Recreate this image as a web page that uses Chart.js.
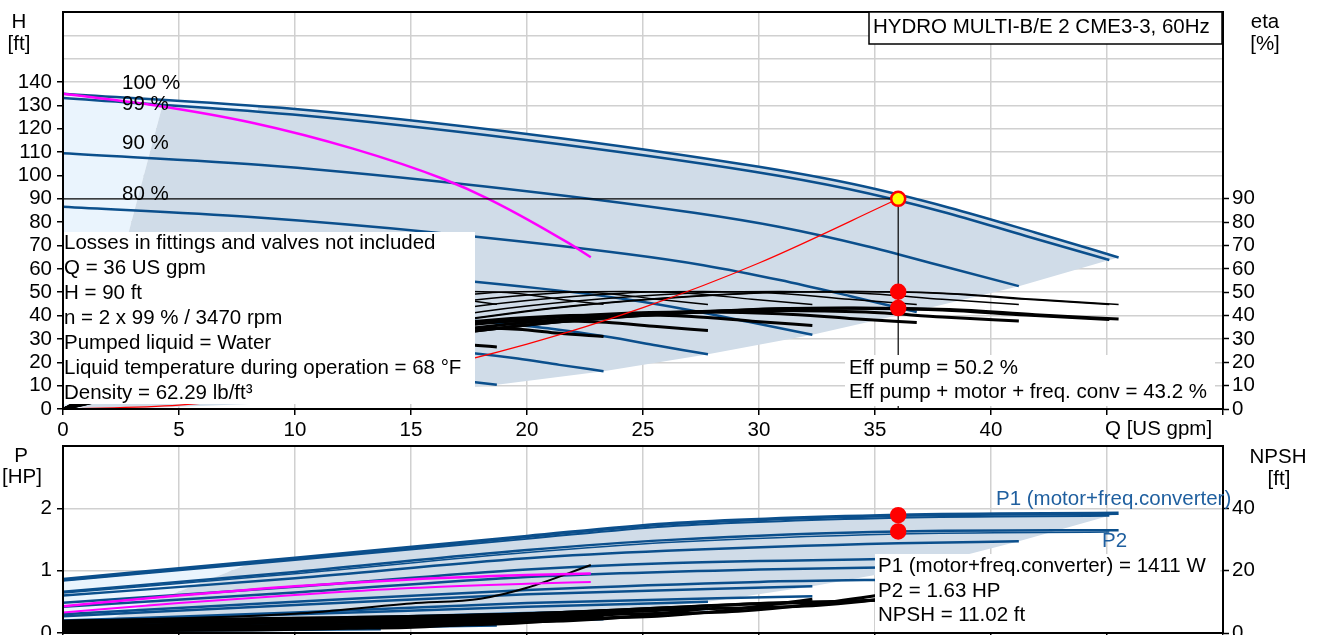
<!DOCTYPE html>
<html>
<head>
<meta charset="utf-8">
<script src="https://cdn.jsdelivr.net/npm/chart.js@4.4.0/dist/chart.umd.min.js"></script>
<style>
  html, body { margin: 0; padding: 0; background: #fff; overflow: hidden; }
  #wrap { position: relative; width: 1322px; height: 635px; overflow: hidden; }
  #headChart { position: absolute; left: 0; top: 0; }
  #powerChart { position: absolute; left: 0; top: 428px; }
</style>
</head>
<body>
<div id="wrap">
  <canvas id="headChart" width="1322" height="440"></canvas>
  <canvas id="powerChart" width="1322" height="240"></canvas>
</div>
<script>
  // ---- top panel: Q [US gpm] vs H [ft] and eta [%] ----
  const speedLabels = ['100 %', '99 %', '90 %', '80 %'];

  const qS100 = [0, 10, 20, 30, 34.1, 38.2, 41.9, 45.5];
  const qS99 = [0, 9.9, 19.8, 29.8, 33.8, 37.9, 41.5, 45.1];
  const qS90 = [0, 9.1, 18.1, 27.2, 30.9, 34.6, 37.9, 41.2];
  const qS80 = [0, 8.1, 16.2, 24.3, 27.6, 30.9, 33.9, 36.8];
  const qS70 = [0, 7.1, 14.2, 21.3, 24.2, 27.1, 29.7, 32.3];
  const qS60 = [0, 6.1, 12.2, 18.3, 20.9, 23.4, 25.6, 27.8];
  const qS50 = [0, 5.1, 10.3, 15.4, 17.5, 19.6, 21.4, 23.3];
  const qS40 = [0, 4.1, 8.2, 12.3, 14.0, 15.7, 17.2, 18.7];

  const h100 = [135, 128.5, 117.8, 103.7, 96.2, 86.2, 75.6, 64.9];
  const h99 = [133.2, 126.1, 115.4, 101.6, 94.3, 84.5, 74.1, 63.8];
  const h90 = [109.5, 104.1, 95.4, 84.0, 77.9, 69.8, 61.2, 52.6];
  const h80 = [86.6, 82.2, 75.4, 66.4, 61.6, 55.2, 48.4, 41.5];
  const h70 = [66.2, 63.0, 57.7, 50.8, 47.1, 42.2, 37.0, 31.8];
  const h60 = [48.6, 46.3, 42.4, 37.3, 34.6, 31.0, 27.2, 23.4];
  const h50 = [33.8, 32.1, 29.5, 25.9, 24.1, 21.6, 18.9, 16.2];
  const h40 = [21.6, 20.6, 18.8, 16.6, 15.4, 13.8, 12.1, 10.4];

  // pump efficiency (same for every speed) and pump+motor+converter efficiency
  const etaPump = [0, 25.3, 41.8, 49.7, 50.3, 49.5, 47.0, 44.8];
  const etaTot100 = [0, 21.8, 36.0, 42.7, 43.3, 42.6, 40.4, 38.5];
  const etaTot99 = [0, 21.6, 35.8, 42.5, 43.1, 42.4, 40.2, 38.3];
  const etaTot90 = [0, 21.2, 35.1, 41.7, 42.2, 41.5, 39.4, 37.7];
  const etaTot80 = [0, 20.8, 34.5, 41.0, 41.5, 40.8, 38.8, 37.0];
  const etaTot70 = [0, 20.2, 33.4, 39.8, 40.2, 39.6, 37.6, 35.8];
  const etaTot60 = [0, 19.0, 31.4, 37.3, 37.7, 37.1, 35.3, 33.6];
  const etaTot50 = [0, 17.5, 28.8, 34.3, 34.7, 34.2, 32.4, 31.0];
  const etaTot40 = [0, 14.9, 24.7, 29.3, 29.7, 29.2, 27.7, 26.6];

  // single pump curve (magenta) and system curve (red)
  const qMag = [0, 4, 8.2, 12.5, 16.4, 18.4, 21.8, 22.75];
  const hMag = [135, 130, 122.5, 111.5, 98.5, 89.7, 71, 65];
  const qSys = [0, 5, 10, 15, 20, 25, 30, 36];
  const hSys = [0, 1.7, 6.9, 15.6, 27.8, 43.4, 62.5, 90];

  // duty point
  const dutyQ = 36;
  const dutyH = 90;
  const effPump = 50.2;
  const effTotal = 43.2;

  // operating range (light = outside min flow, dark = allowed range)
  const lightQ = [0, 0, 4.3, 8.4, 8.4, 4.3, 0.8];
  const lightH = [0, 135, 132.6, 129.7, 127.3, 130.5, 0];
  const darkQ = [0.8, 4.3, 8.4, 8.4, 10, 20, 25, 30, 35, 40, 45, 45.5, 45.1, 41.2, 36.6, 32.3, 27.8, 23.3, 18.7, 13.7, 9.1, 4.5];
  const darkH = [0, 130.5, 127.3, 129.7, 128.5, 117.8, 110.9, 103.7, 94.5, 81.6, 65.9, 64.9, 63.8, 52.6, 41.5, 31.8, 23.4, 16.2, 10.4, 5.9, 2.6, 0.7];

  // ---- bottom panel: P [HP] and NPSH [ft] ----
  const pQ100 = [0, 10, 20, 26, 36, 45.5];
  const p1_100 = [0.86, 1.2, 1.55, 1.75, 1.89, 1.92];
  const p2_100 = [0.66, 0.98, 1.33, 1.49, 1.63, 1.65];
  const pQ99 = [0, 10, 20, 26, 36, 45.1];
  const p1_99 = [0.84, 1.17, 1.51, 1.71, 1.85, 1.88];
  const p2_99 = [0.64, 0.95, 1.29, 1.45, 1.59, 1.62];
  const pQ90 = [0, 10, 20, 26, 36, 41.2];
  const p1_90 = [0.6, 0.88, 1.2, 1.32, 1.44, 1.47];
  const p2_90 = [0.485, 0.74, 1.02, 1.12, 1.19, 1.21];
  const pQ80 = [0, 10, 20, 30, 36.8];
  const p1_80 = [0.42, 0.65, 0.9, 1.02, 1.06];
  const p2_80 = [0.3, 0.5, 0.69, 0.82, 0.86];
  const pQ70 = [0, 10, 20, 32.3];
  const p1_70 = [0.27, 0.45, 0.62, 0.75];
  const p2_70 = [0.2, 0.33, 0.48, 0.59];
  const pQ60 = [0, 10, 20, 27.8];
  const p1_60 = [0.19, 0.3, 0.42, 0.5];
  const p2_60 = [0.13, 0.22, 0.32, 0.384];
  const pQ50 = [0, 10, 23.3];
  const p1_50 = [0.13, 0.2, 0.325];
  const p2_50 = [0.08, 0.13, 0.22];
  const pQ40 = [0, 10, 18.7];
  const p1_40 = [0.09, 0.14, 0.2];
  const p2_40 = [0.05, 0.08, 0.12];
  const pQ30 = [0, 13.7];
  const p1_30 = [0.06, 0.12];
  const p2_30 = [0.03, 0.06];

  const qMagP = [0, 5, 10, 15, 20, 22.75];
  const magP1 = [0.43, 0.6, 0.75, 0.86, 0.93, 0.955];
  const magP2 = [0.33, 0.48, 0.61, 0.72, 0.79, 0.82];

  const nQ100 = [0, 20, 30, 36, 40, 45.5];
  const n100 = [3.8, 6.2, 9.5, 11.0, 14.5, 21.8];
  const nQ99 = [0, 19.8, 29.7, 35.6, 39.6, 45.1];
  const n99 = [3.7, 6.1, 9.3, 10.8, 14.2, 21.4];
  const nQ90 = [0, 18.1, 27.2, 32.6, 36.2, 41.2];
  const n90 = [3.1, 5.0, 7.7, 8.9, 11.7, 17.7];
  const nQ80 = [0, 16.2, 24.3, 29.1, 32.4, 36.8];
  const n80 = [2.4, 4.0, 6.1, 7.0, 9.3, 14.0];
  const nQ70 = [0, 14.2, 21.3, 25.6, 28.4, 32.3];
  const n70 = [1.9, 3.0, 4.7, 5.4, 7.1, 10.8];
  const nQ60 = [0, 12.2, 18.3, 22, 24.4, 27.8];
  const n60 = [1.4, 2.2, 3.4, 4.0, 5.2, 7.9];
  const nQ50 = [0, 10.2, 15.4, 18.4, 20.5, 23.3];
  const n50 = [1.0, 1.6, 2.4, 2.8, 3.6, 5.5];
  const nQ40 = [0, 8.2, 12.3, 14.8, 16.4, 18.7];
  const n40 = [0.6, 1.0, 1.5, 1.8, 2.3, 3.5];
  const nQMag = [0, 10, 15, 18, 20, 22.75];
  const nMag = [3.8, 6.2, 9.5, 11.0, 14.5, 21.8];

  const dutyP1 = 1.89;
  const dutyP2 = 1.63;

  const lightPQ = [0, 0, 8.2, 0.5];
  const lightP = [0, 0.86, 1.14, 0];
  const darkPQ = [0.5, 8.2, 10, 15, 20, 26, 30, 36, 40, 45.5, 45.1, 41.2, 36.8, 32.3, 27.8, 23.3, 18.7, 13.7, 9.1, 4.5];
  const darkP = [0, 1.14, 1.2, 1.37, 1.55, 1.75, 1.82, 1.89, 1.91, 1.92, 1.88, 1.47, 1.05, 0.75, 0.5, 0.325, 0.2, 0.12, 0.07, 0.03];

  // ---- styles ----
  const FONT = '"Liberation Sans", Arial, Helvetica, sans-serif';
  const FS = 20.5;
  const BLUE = '#0b4f8c';
  const GRID = '#d0d0d0';
  const LIGHT = 'rgb(234,244,253)';
  const DARK = 'rgb(208,220,232)';

  Chart.defaults.font.family = FONT;
  Chart.defaults.font.size = FS;
  Chart.defaults.color = '#000';

  function pts(q, v) {
    return q.map((x, i) => ({ x: x, y: v[i] }));
  }

  function curve(q, v, color, width, axis, order) {
    return {
      data: pts(q, v), borderColor: color, borderWidth: width, pointRadius: 0,
      cubicInterpolationMode: 'monotone', fill: false, yAxisID: axis, order: order
    };
  }

  function area(q, v, color, axis, order) {
    return {
      data: pts(q, v), borderWidth: 0, borderColor: 'rgba(0,0,0,0)', backgroundColor: color,
      pointRadius: 0, tension: 0, fill: 'shape', yAxisID: axis, order: order
    };
  }

  function dot(q, v, fillColor, axis) {
    return {
      data: [{ x: q, y: v }], showLine: false, pointRadius: 7, pointBorderWidth: 2.5,
      pointBackgroundColor: fillColor, pointBorderColor: '#ff0000', yAxisID: axis, order: 0
    };
  }

  function text(ctx, str, x, y, color, align) {
    ctx.save();
    ctx.font = FS + 'px ' + FONT;
    ctx.fillStyle = color || '#000';
    ctx.textAlign = align || 'left';
    ctx.textBaseline = 'middle';
    ctx.fillText(str, x, y);
    ctx.restore();
  }

  function tickMark(limit) {
    return function (c) {
      return c.tick && c.tick.value <= limit ? '#000' : 'rgba(0,0,0,0)';
    };
  }

  // fixed axis sizes so the plot areas sit where the original has them
  function fixWidth(w) {
    return function (s) { s.width = w; s.paddingTop = 0; s.paddingBottom = 0; };
  }
  function fixHeight(h) {
    return function (s) { s.height = h; s.paddingLeft = 0; s.paddingRight = 0; };
  }

  function frame(chart) {
    const a = chart.chartArea;
    const ctx = chart.ctx;
    ctx.save();
    ctx.strokeStyle = '#000';
    ctx.lineWidth = 2;
    ctx.strokeRect(a.left, a.top, a.right - a.left, a.bottom - a.top);
    ctx.restore();
  }

  // ---- top chart ----
  const headData = [
    area(lightQ, lightH, LIGHT, 'y', 21),
    area(darkQ, darkH, DARK, 'y', 20),
    curve(qS100, h100, BLUE, 2.5, 'y', 10),
    curve(qS99, h99, BLUE, 2.5, 'y', 10),
    curve(qS90, h90, BLUE, 2.5, 'y', 10),
    curve(qS80, h80, BLUE, 2.5, 'y', 10),
    curve(qS70, h70, BLUE, 2.5, 'y', 10),
    curve(qS60, h60, BLUE, 2.5, 'y', 10),
    curve(qS50, h50, BLUE, 2.5, 'y', 10),
    curve(qS40, h40, BLUE, 2.5, 'y', 10),
    curve(qS100, etaPump, '#000', 1.5, 'eta', 8),
    curve(qS99, etaPump, '#000', 1.5, 'eta', 8),
    curve(qS90, etaPump, '#000', 1.5, 'eta', 8),
    curve(qS80, etaPump, '#000', 1.5, 'eta', 8),
    curve(qS70, etaPump, '#000', 1.5, 'eta', 8),
    curve(qS60, etaPump, '#000', 1.5, 'eta', 8),
    curve(qS50, etaPump, '#000', 1.5, 'eta', 8),
    curve(qS40, etaPump, '#000', 1.5, 'eta', 8),
    curve(qS100, etaTot100, '#000', 3, 'eta', 8),
    curve(qS99, etaTot99, '#000', 3, 'eta', 8),
    curve(qS90, etaTot90, '#000', 3, 'eta', 8),
    curve(qS80, etaTot80, '#000', 3, 'eta', 8),
    curve(qS70, etaTot70, '#000', 3, 'eta', 8),
    curve(qS60, etaTot60, '#000', 3, 'eta', 8),
    curve(qS50, etaTot50, '#000', 3, 'eta', 8),
    curve(qS40, etaTot40, '#000', 3, 'eta', 8),
    curve(qMag, hMag, '#ff00ff', 2.5, 'y', 7),
    curve(qSys, hSys, '#ff0000', 1.2, 'y', 6),
    curve([0, dutyQ], [dutyH, dutyH], '#000', 1.2, 'y', 5),
    curve([dutyQ, dutyQ], [0, dutyH], '#000', 1.2, 'y', 5),
    dot(dutyQ, effPump, '#ff0000', 'eta'),
    dot(dutyQ, effTotal, '#ff0000', 'eta'),
    dot(dutyQ, dutyH, '#ffff00', 'y')
  ];

  const headExtras = {
    id: 'headExtras',
    afterDatasetsDraw(chart) {
      const ctx = chart.ctx;
      ctx.save();
      ctx.fillStyle = '#fff';
      ctx.fillRect(63, 232, 412, 172);
      ctx.fillRect(845, 355, 370, 51);
      ctx.restore();

      const info = [
        'Losses in fittings and valves not included',
        'Q = 36 US gpm',
        'H = 90 ft',
        'n = 2 x 99 % / 3470 rpm',
        'Pumped liquid = Water',
        'Liquid temperature during operation = 68 °F',
        'Density = 62.29 lb/ft³'
      ];
      info.forEach((s, i) => text(ctx, s, 64, 243 + i * 25));
      text(ctx, 'Eff pump = 50.2 %', 849, 368);
      text(ctx, 'Eff pump + motor + freq. conv = 43.2 %', 849, 392);

      const labelY = [83, 104, 143, 194];
      speedLabels.forEach((s, i) => text(ctx, s, 122, labelY[i]));
    },
    afterDraw(chart) {
      frame(chart);
      const ctx = chart.ctx;
      ctx.save();
      ctx.fillStyle = '#fff';
      ctx.strokeStyle = '#000';
      ctx.lineWidth = 1.5;
      ctx.fillRect(869, 12, 353, 32);
      ctx.strokeRect(869, 12, 353, 32);
      ctx.restore();
      text(ctx, 'HYDRO MULTI-B/E 2 CME3-3, 60Hz', 873, 27);
      text(ctx, 'H', 19, 22, '#000', 'center');
      text(ctx, '[ft]', 19, 44, '#000', 'center');
      text(ctx, 'eta', 1265, 22, '#000', 'center');
      text(ctx, '[%]', 1265, 44, '#000', 'center');
      text(ctx, 'Q [US gpm]', 1105, 429);
    }
  };

  new Chart(document.getElementById('headChart'), {
    type: 'line',
    data: { datasets: headData },
    options: {
      responsive: false,
      animation: false,
      events: [],
      layout: { padding: { top: 12, left: 0, right: 0, bottom: 0 } },
      plugins: { legend: { display: false }, tooltip: { enabled: false } },
      scales: {
        x: {
          type: 'linear', min: 0, max: 50,
          afterFit: fixHeight(31),
          ticks: { stepSize: 5, autoSkip: false, maxRotation: 0, padding: 3,
                   callback: v => (v <= 40 ? v : '') },
          grid: { color: GRID, lineWidth: 1.5, tickLength: 6, tickWidth: 1.5, tickColor: '#000' },
          border: { color: '#000', width: 2 }
        },
        y: {
          type: 'linear', position: 'left', min: 0, max: 170,
          afterFit: fixWidth(63),
          ticks: { stepSize: 10, autoSkip: false, padding: 5, callback: v => (v <= 140 ? v : '') },
          grid: { color: GRID, lineWidth: 1.5, tickLength: 6, tickWidth: 1.5, tickColor: tickMark(140) },
          border: { color: '#000', width: 2 }
        },
        eta: {
          type: 'linear', position: 'right', min: 0, max: 170,
          afterFit: fixWidth(99),
          ticks: { stepSize: 10, autoSkip: false, padding: 3, callback: v => (v <= 90 ? v : '') },
          grid: { drawOnChartArea: false, tickLength: 6, tickWidth: 1.5, tickColor: tickMark(90) },
          border: { color: '#000', width: 2 }
        }
      }
    },
    plugins: [headExtras]
  });

  // ---- bottom chart ----
  const powerData = [
    area(lightPQ, lightP, LIGHT, 'p', 21),
    area(darkPQ, darkP, DARK, 'p', 20),
    curve(pQ100, p1_100, BLUE, 3.5, 'p', 10),
    curve(pQ99, p1_99, BLUE, 2, 'p', 10),
    curve(pQ100, p2_100, BLUE, 2.5, 'p', 10),
    curve(pQ99, p2_99, BLUE, 1.5, 'p', 10),
    curve(pQ90, p1_90, BLUE, 2.5, 'p', 10),
    curve(pQ90, p2_90, BLUE, 2.5, 'p', 10),
    curve(pQ80, p1_80, BLUE, 2.5, 'p', 10),
    curve(pQ80, p2_80, BLUE, 2.5, 'p', 10),
    curve(pQ70, p1_70, BLUE, 2.5, 'p', 10),
    curve(pQ70, p2_70, BLUE, 2.5, 'p', 10),
    curve(pQ60, p1_60, BLUE, 2.5, 'p', 10),
    curve(pQ60, p2_60, BLUE, 2.5, 'p', 10),
    curve(pQ50, p1_50, BLUE, 2.5, 'p', 10),
    curve(pQ50, p2_50, BLUE, 2.5, 'p', 10),
    curve(pQ40, p1_40, BLUE, 2.5, 'p', 10),
    curve(pQ40, p2_40, BLUE, 2.5, 'p', 10),
    curve(pQ30, p1_30, BLUE, 2.5, 'p', 10),
    curve(pQ30, p2_30, BLUE, 2.5, 'p', 10),
    curve(nQ100, n100, '#000', 3, 'npsh', 8),
    curve(nQ99, n99, '#000', 3, 'npsh', 8),
    curve(nQ90, n90, '#000', 3, 'npsh', 8),
    curve(nQ80, n80, '#000', 3, 'npsh', 8),
    curve(nQ70, n70, '#000', 3, 'npsh', 8),
    curve(nQ60, n60, '#000', 3, 'npsh', 8),
    curve(nQ50, n50, '#000', 3, 'npsh', 8),
    curve(nQ40, n40, '#000', 3, 'npsh', 8),
    curve(nQMag, nMag, '#000', 2, 'npsh', 8),
    curve(qMagP, magP1, '#ff00ff', 2.5, 'p', 7),
    curve(qMagP, magP2, '#ff00ff', 2, 'p', 7),
    dot(dutyQ, dutyP1, '#ff0000', 'p'),
    dot(dutyQ, dutyP2, '#ff0000', 'p')
  ];

  const OFF = 428; // page y of the lower canvas
  const powerExtras = {
    id: 'powerExtras',
    afterDatasetsDraw(chart) {
      const ctx = chart.ctx;
      ctx.save();
      ctx.fillStyle = '#fff';
      ctx.fillRect(875, 554 - OFF, 345, 79);
      ctx.restore();
      text(ctx, 'P1 (motor+freq.converter) = 1411 W', 878, 566 - OFF);
      text(ctx, 'P2 = 1.63 HP', 878, 591 - OFF);
      text(ctx, 'NPSH = 11.02 ft', 878, 615 - OFF);
    },
    afterDraw(chart) {
      frame(chart);
      const ctx = chart.ctx;
      text(ctx, 'P1 (motor+freq.converter)', 996, 499 - OFF, '#1f5f9f');
      text(ctx, 'P2', 1102, 541 - OFF, '#1f5f9f');
      text(ctx, 'P', 21, 456 - OFF, '#000', 'center');
      text(ctx, '[HP]', 22, 477 - OFF, '#000', 'center');
      text(ctx, 'NPSH', 1278, 457 - OFF, '#000', 'center');
      text(ctx, '[ft]', 1279, 479 - OFF, '#000', 'center');
    }
  };

  new Chart(document.getElementById('powerChart'), {
    type: 'line',
    data: { datasets: powerData },
    options: {
      responsive: false,
      animation: false,
      events: [],
      layout: { padding: { top: 18, left: 0, right: 0, bottom: 0 } },
      plugins: { legend: { display: false }, tooltip: { enabled: false } },
      scales: {
        x: {
          type: 'linear', min: 0, max: 50,
          afterFit: fixHeight(35),
          ticks: { stepSize: 5, autoSkip: false, maxRotation: 0, padding: 4,
                   callback: v => (v <= 40 ? v : '') },
          grid: { color: GRID, lineWidth: 1.5, tickLength: 6, tickWidth: 1.5, tickColor: '#000' },
          border: { color: '#000', width: 2 }
        },
        p: {
          type: 'linear', position: 'left', min: 0, max: 3,
          afterFit: fixWidth(63),
          ticks: { stepSize: 1, autoSkip: false, padding: 5, callback: v => (v <= 2 ? v : '') },
          grid: { color: GRID, lineWidth: 1.5, tickLength: 6, tickWidth: 1.5, tickColor: tickMark(2) },
          border: { color: '#000', width: 2 }
        },
        npsh: {
          type: 'linear', position: 'right', min: 0, max: 60,
          afterFit: fixWidth(99),
          ticks: { stepSize: 20, autoSkip: false, padding: 3, callback: v => (v <= 40 ? v : '') },
          grid: { drawOnChartArea: false, tickLength: 6, tickWidth: 1.5, tickColor: tickMark(40) },
          border: { color: '#000', width: 2 }
        }
      }
    },
    plugins: [powerExtras]
  });
</script>
</body>
</html>
